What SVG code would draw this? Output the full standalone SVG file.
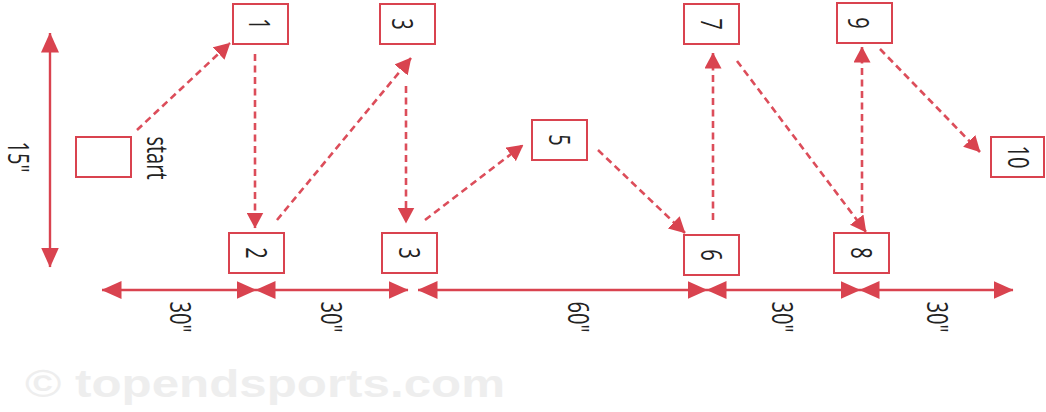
<svg xmlns="http://www.w3.org/2000/svg" width="1046" height="412" viewBox="0 0 1046 412">
  <defs>
    <!-- filled arrowhead for the dashed run paths -->
    <marker id="tip" viewBox="0 0 16 17" markerUnits="userSpaceOnUse" markerWidth="16" markerHeight="17" refX="15.5" refY="8.5" orient="auto">
      <path d="M0,0 L16,8.5 L0,17 Z" fill="#d9434f"/>
    </marker>
    <!-- arrowhead for the distance lines -->
    <marker id="dim" viewBox="0 0 20 18" markerUnits="userSpaceOnUse" markerWidth="20" markerHeight="18" refX="19.5" refY="9" orient="auto-start-reverse">
      <path d="M0,0 L20,9 L0,18 Z" fill="#d9434f"/>
    </marker>
  </defs>
  <style>
    .cone rect { fill: #ffffff; stroke: #d9434f; stroke-width: 2; }
    .lbl { font-family: "Open Sans", "Liberation Sans", sans-serif; font-size: 20px; fill: #222222; text-anchor: middle; }
    .run { fill: none; stroke: #dc4d5a; stroke-width: 2.6; stroke-dasharray: 7 4.5; marker-end: url(#tip); }
    .span { fill: none; stroke: #d9434f; stroke-width: 2.4; marker-start: url(#dim); marker-end: url(#dim); }
    .mark { font-family: "Liberation Sans", Arial, sans-serif; font-weight: bold; font-size: 38px; fill: #eeeeee; }
  </style>

  <rect width="1046" height="412" fill="#ffffff"/>

  <!-- watermark -->
  <text class="mark" x="25" y="397" textLength="480" lengthAdjust="spacingAndGlyphs">© topendsports.com</text>

  <!-- distance lines and their labels -->
  <g id="dimensions">
    <line class="span" x1="50" y1="33" x2="50" y2="267"/>
    <line class="span" x1="102" y1="290" x2="256" y2="290"/>
    <line class="span" x1="256" y1="290" x2="408" y2="290"/>
    <line class="span" x1="418" y1="290" x2="707" y2="290"/>
    <line class="span" x1="707" y1="290" x2="860" y2="290"/>
    <line class="span" x1="860" y1="290" x2="1013" y2="290"/>
    <text class="lbl" transform="translate(18,157) scale(1.45,1) rotate(90)" y="7">15"</text>
    <text class="lbl" transform="translate(180,317) scale(1.45,1) rotate(90)" y="7">30"</text>
    <text class="lbl" transform="translate(331,317) scale(1.45,1) rotate(90)" y="7">30"</text>
    <text class="lbl" transform="translate(578,317) scale(1.45,1) rotate(90)" y="7">60"</text>
    <text class="lbl" transform="translate(782,317) scale(1.45,1) rotate(90)" y="7">30"</text>
    <text class="lbl" transform="translate(937,317) scale(1.45,1) rotate(90)" y="7">30"</text>
  </g>

  <!-- dashed run paths between cones -->
  <g id="connectors">
    <line class="run" x1="137" y1="130" x2="230" y2="43"/>
    <line class="run" x1="255" y1="54" x2="255" y2="228"/>
    <line class="run" x1="277" y1="220" x2="411" y2="58"/>
    <line class="run" x1="406" y1="86" x2="406" y2="223"/>
    <line class="run" x1="425" y1="220" x2="523" y2="145"/>
    <line class="run" x1="598" y1="150" x2="685" y2="233"/>
    <line class="run" x1="713" y1="220" x2="713" y2="53"/>
    <line class="run" x1="737" y1="61" x2="866" y2="232"/>
    <line class="run" x1="862" y1="213" x2="862" y2="47"/>
    <line class="run" x1="880" y1="49" x2="980" y2="152"/>
  </g>

  <!-- cones -->
  <g id="start" class="cone">
    <rect x="76" y="137" width="55" height="40"/>
    <text class="lbl" transform="translate(156,158) scale(1.45,1) rotate(90)" y="6">start</text>
  </g>
  <g id="cone-1" class="cone">
    <rect x="233" y="4" width="55" height="40"/>
    <text class="lbl" transform="translate(259,24) scale(1.45,1) rotate(90)" y="7">1</text>
  </g>
  <g id="cone-2" class="cone">
    <rect x="229" y="233" width="55" height="40"/>
    <text class="lbl" transform="translate(256,253) scale(1.45,1) rotate(90)" y="7">2</text>
  </g>
  <g id="cone-3-top" class="cone">
    <rect x="380" y="4" width="55" height="40"/>
    <text class="lbl" transform="translate(402,24) scale(1.45,1) rotate(90)" y="7">3</text>
  </g>
  <g id="cone-3-bottom" class="cone">
    <rect x="382" y="233" width="55" height="40"/>
    <text class="lbl" transform="translate(409,253) scale(1.45,1) rotate(90)" y="7">3</text>
  </g>
  <g id="cone-5" class="cone">
    <rect x="532" y="120" width="55" height="40"/>
    <text class="lbl" transform="translate(559,140) scale(1.45,1) rotate(90)" y="7">5</text>
  </g>
  <g id="cone-6" class="cone">
    <rect x="684" y="235" width="55" height="40"/>
    <text class="lbl" transform="translate(711,255) scale(1.45,1) rotate(90)" y="7">6</text>
  </g>
  <g id="cone-7" class="cone">
    <rect x="684" y="4" width="55" height="40"/>
    <text class="lbl" transform="translate(711,24) scale(1.45,1) rotate(90)" y="7">7</text>
  </g>
  <g id="cone-8" class="cone">
    <rect x="834" y="233" width="55" height="40"/>
    <text class="lbl" transform="translate(861,253) scale(1.45,1) rotate(90)" y="7">8</text>
  </g>
  <g id="cone-9" class="cone">
    <rect x="837" y="3" width="55" height="40"/>
    <text class="lbl" transform="translate(858,23) scale(1.45,1) rotate(90)" y="7">9</text>
  </g>
  <g id="cone-10" class="cone">
    <rect x="991" y="137" width="53" height="40"/>
    <text class="lbl" transform="translate(1018,157) scale(1.45,1) rotate(90)" y="7">10</text>
  </g>
</svg>
